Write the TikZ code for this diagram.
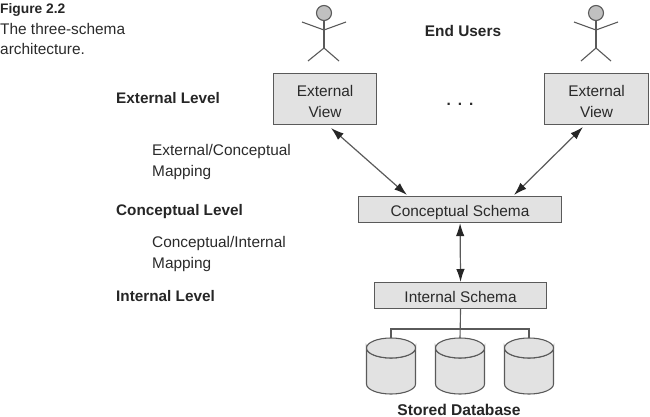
\documentclass[tikz,border=0pt]{standalone}
\usepackage{fontspec}
\setmainfont{Liberation Sans}
\usetikzlibrary{arrows.meta}
\definecolor{boxfill}{HTML}{E2E2E2}
\definecolor{edge}{HTML}{5A5A5A}
\definecolor{ink}{HTML}{2A2A2A}
\tikzset{
  x=1pt,y=-1pt,
  lbl/.style={font=\fontsize{15.4}{20}\selectfont,text=ink,inner sep=0pt},
  lblbold/.style={lbl,font=\fontsize{15.3}{20}\selectfont\bfseries,text=black!85},
  note/.style={lbl,anchor=base west,align=left},
  boldnote/.style={lblbold,anchor=base west},
  schemabox/.style={draw=edge,line width=1.1pt,fill=boxfill,lbl,inner sep=0pt,anchor=north west,align=center},
  onerow/.style={text height=13.2pt,text depth=0pt},
  tworow/.style={text height=36pt,text depth=0pt},
  biarrow/.style={draw=edge,line width=1.2pt,{Latex[length=13pt,width=8.5pt,color=black!85]}-{Latex[length=13pt,width=8.5pt,color=black!85]}},
  wire/.style={draw=edge,line width=1.1pt},
  figure/.style={draw=edge,line width=1.1pt},
  dbline/.style={draw=edge,line width=1.1pt,fill=boxfill}
}
\begin{document}
\begin{tikzpicture}
\useasboundingbox (0,0) rectangle (650,417);
% captions
\node[boldnote,font=\fontsize{13.8}{18}\selectfont\bfseries] (figlab) at (0,14) {Figure 2.2};
\node[note] (figcap1) at (0,35) {The three-schema};
\node[note] (figcap2) at (0,55) {architecture.};
% levels
\node[boldnote] (extlev) at (116,103) {External Level};
\node[boldnote] (conlev) at (116,215) {Conceptual Level};
\node[boldnote] (intlev) at (116,301) {Internal Level};
\node[note] (m1a) at (152,155.5) {External/Conceptual};
\node[note] (m1b) at (152,176) {Mapping};
\node[note] (m2a) at (152,247.5) {Conceptual/Internal};
\node[note] (m2b) at (152,268) {Mapping};
\node[lblbold,anchor=base,font=\fontsize{15.4}{20}\selectfont\bfseries] (users) at (463,37) {End Users};
\node[lbl,anchor=base,font=\fontsize{15.4}{20}\selectfont\bfseries] (dots) at (460,106) {.\hspace{7pt}.\hspace{7pt}.};
\node[lblbold,anchor=base,font=\fontsize{15.6}{20}\selectfont\bfseries] (stored) at (459,415) {Stored Database};
% boxes
\node[schemabox,tworow,minimum width=103pt,minimum height=51pt] (ev1) at (273,73) {External\\[0.5pt]View};
\node[schemabox,tworow,minimum width=104pt,minimum height=51pt] (ev2) at (544,73) {External\\[0.5pt]View};
\node[schemabox,onerow,minimum width=203pt,minimum height=26pt] (cs) at (358,196) {Conceptual Schema};
\node[schemabox,onerow,minimum width=172pt,minimum height=26pt] (is) at (374,282) {Internal Schema};
% cylinders
\coordinate (dbtop1) at (391,338);
\coordinate (dbtop2) at (460,338);
\coordinate (dbtop3) at (529,338);
\foreach \n in {1,2,3}{
  \path[dbline] ([xshift=-24.5pt,yshift=-10pt]dbtop\n) -- ++(0,36) arc[start angle=180,end angle=360,x radius=24.5pt,y radius=10pt] -- ++(0,-36) arc[start angle=0,end angle=-180,x radius=24.5pt,y radius=10pt] -- cycle;
  \path[dbline] ([yshift=-10pt]dbtop\n) ellipse[x radius=24.5pt,y radius=10pt];
}
% connectors
\coordinate (a1s) at (331,128);
\coordinate (a1e) at (407,195);
\coordinate (a2s) at (583,127);
\coordinate (a2e) at (514,195);
\draw[biarrow] (a1s) -- (a1e);
\draw[biarrow] (a2s) -- (a2e);
\draw[biarrow] (cs.south) -- (is.north);
\coordinate (j) at (460,329);
\draw[wire] (is.south) -- (dbtop2);
\draw[wire] (dbtop1) |- (j) -| (dbtop3);
% stick figures
\foreach \cx/\lx/\rx in {324/308/339,596/581/611}{
  \draw[figure,fill=boxfill!85!black] (\cx,13) circle[radius=7.5pt];
  \draw[figure] (\cx,20.5) -- (\cx,48);
  \draw[figure] (\cx-22,22) -- (\cx,30) -- (\cx+22,22);
  \draw[figure] (\lx,61) -- (\cx,48) -- (\rx,61);
}
\end{tikzpicture}
\end{document}
